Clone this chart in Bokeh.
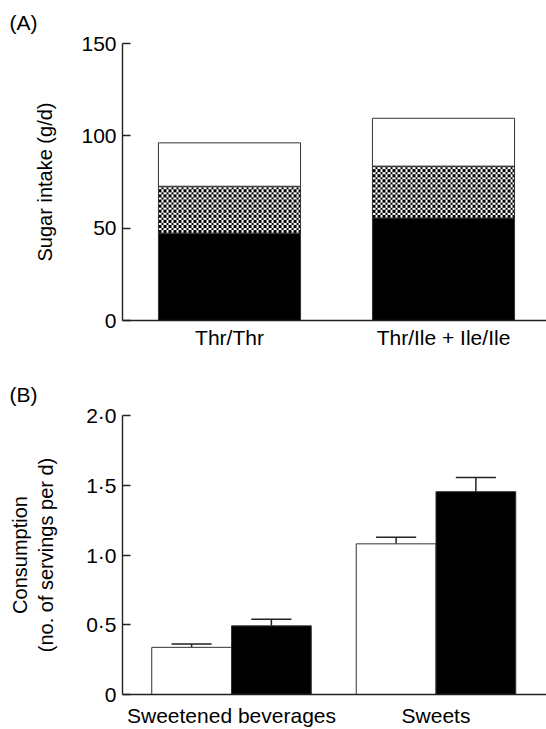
import numpy as np
from bokeh.plotting import figure
from bokeh.layouts import column
from bokeh.models import Range1d, FixedTicker
from bokeh.embed import file_html
from bokeh.resources import INLINE

# ---------------- data ----------------
genotypes = ["Thr/Thr", "Thr/Ile + Ile/Ile"]
sugar_black = [47.3, 55.5]      # bottom segment (g/d)
sugar_hatched = [25.4, 28.1]    # middle (checkered) segment
sugar_white = [23.5, 25.9]      # top segment

a_ticks = [0, 50, 100, 150]

food_groups = ["Sweetened beverages", "Sweets"]
cons_white = [0.338, 1.080]     # Thr/Thr
cons_white_err = [0.024, 0.048]
cons_black = [0.492, 1.454]     # Thr/Ile + Ile/Ile
cons_black_err = [0.047, 0.102]

b_ticks = [0, 0.5, 1.0, 1.5, 2.0]
b_tick_labels = ["0", "0\u00b75", "1\u00b70", "1\u00b75", "2\u00b70"]

FONT = "Liberation Sans"
FS = "21px"
FS_AX = "20px"
AX = "#222222"
W = 546
LEFT = 122


def style(p):
    p.toolbar_location = None
    p.outline_line_color = None
    p.xgrid.visible = False
    p.ygrid.visible = False
    p.background_fill_color = "white"
    p.border_fill_color = "white"
    for ax in (p.xaxis[0], p.yaxis[0]):
        ax.axis_line_color = AX
        ax.axis_line_width = 1.4
        ax.major_tick_line_color = AX
        ax.major_tick_line_width = 1.4
        ax.minor_tick_line_color = None
        ax.major_label_text_font = FONT
        ax.major_label_text_font_size = FS
        ax.major_label_text_color = "black"
        ax.axis_label_text_font = FONT
        ax.axis_label_text_font_size = FS_AX
        ax.axis_label_text_font_style = "normal"
        ax.axis_label_text_color = "black"
    p.xaxis.major_tick_in = 0
    p.xaxis.major_tick_out = 0
    p.yaxis.major_tick_in = 8
    p.yaxis.major_tick_out = 0
    p.yaxis.major_label_standoff = 6
    p.title.text_font = FONT
    p.title.text_font_size = FS
    p.title.text_font_style = "normal"
    p.title.text_color = "black"
    p.title.align = "left"
    p.title.offset = -(LEFT - 9)


# ---------------- panel A ----------------
A_H = 351
A_TOP, A_BOT = 43, 28
a_frame_h = A_H - A_TOP - A_BOT          # 280 px for 150 g/d
a_px_per_unit = 214.0
xa = np.arange(len(genotypes)) + 0.5
black_a = np.array(sugar_black)
hatch_a = black_a + np.array(sugar_hatched)
white_a = hatch_a + np.array(sugar_white)

pA = figure(width=W, height=A_H, output_backend="svg", toolbar_location=None,
            title="(A)",
            x_range=Range1d(0, (W - LEFT) / a_px_per_unit), y_range=Range1d(0, a_ticks[-1]),
            min_border_left=LEFT, min_border_right=0, min_border_top=A_TOP, min_border_bottom=A_BOT)
style(pA)
pA.title.standoff = 16
pA.title.vertical_align = "top"
wA = 0.664
pA.vbar(x=xa, width=wA, bottom=0, top=black_a, fill_color="black", line_color="#333333", line_width=1)

# checkerboard texture for the middle segment (cells of ~2.5 px)
imgs, ix, iy, idw, idh = [], [], [], [], []
for i in range(len(xa)):
    nx = int(round(wA * a_px_per_unit))
    ny = int(round(sugar_hatched[i] * a_frame_h / a_ticks[-1]))
    jj, ii = np.meshgrid(np.arange(nx), np.arange(ny))
    cell = (np.floor(jj / 2.5).astype(int) + np.floor(ii / 2.5).astype(int)) % 2
    arr = np.where(cell == 0, np.uint32(0xFF000000), np.uint32(0xFFFFFFFF)).astype(np.uint32)
    imgs.append(arr)
    ix.append(xa[i] - wA / 2)
    iy.append(black_a[i])
    idw.append(wA)
    idh.append(sugar_hatched[i])
pA.image_rgba(image=imgs, x=ix, y=iy, dw=idw, dh=idh)
pA.vbar(x=xa, width=wA, bottom=black_a, top=hatch_a, fill_color=None, line_color="#333333", line_width=1)
pA.vbar(x=xa, width=wA, bottom=hatch_a, top=white_a, fill_color="white", line_color="#333333", line_width=1)

pA.yaxis.ticker = FixedTicker(ticks=a_ticks)
pA.yaxis.axis_label = "Sugar intake (g/d)"
pA.yaxis.axis_label_standoff = 22
pA.xaxis.ticker = FixedTicker(ticks=list(xa))
pA.xaxis.major_label_overrides = {float(x): g for x, g in zip(xa, genotypes)}
pA.xaxis.major_label_standoff = 5

# ---------------- panel B ----------------
B_H = 729 - A_H
B_TOP = 64
b_frame_h = 282
xb = np.arange(len(food_groups)) + 0.5
b_px_per_unit = 204.5
off = 0.195
wB = 0.39
cap = 0.098
x_w = xb - off
x_b = xb + off
cw = np.array(cons_white)
cb = np.array(cons_black)
cwe = cw + np.array(cons_white_err)
cbe = cb + np.array(cons_black_err)

b_start = -0.033
pB = figure(width=W, height=B_H, output_backend="svg", toolbar_location=None,
            title="(B)",
            x_range=Range1d(b_start, b_start + (W - LEFT) / b_px_per_unit), y_range=Range1d(0, b_ticks[-1]),
            min_border_left=LEFT, min_border_right=0, min_border_top=B_TOP, min_border_bottom=B_H - B_TOP - b_frame_h)
style(pB)
pB.title.standoff = 20
pB.segment(x0=x_w, y0=cw, x1=x_w, y1=cwe, line_color=AX, line_width=1.5)
pB.segment(x0=x_w - cap, y0=cwe, x1=x_w + cap, y1=cwe, line_color=AX, line_width=1.5)
pB.segment(x0=x_b, y0=cb, x1=x_b, y1=cbe, line_color=AX, line_width=1.5)
pB.segment(x0=x_b - cap, y0=cbe, x1=x_b + cap, y1=cbe, line_color=AX, line_width=1.5)
pB.vbar(x=x_w, width=wB, bottom=0, top=cw, fill_color="white", line_color="#333333", line_width=1)
pB.vbar(x=x_b, width=wB, bottom=0, top=cb, fill_color="black", line_color="#333333", line_width=1)

pB.yaxis.ticker = FixedTicker(ticks=b_ticks)
pB.yaxis.major_label_overrides = {float(t): l for t, l in zip(b_ticks, b_tick_labels)}
pB.yaxis.axis_label = "Consumption\n(no. of servings per d)"
pB.yaxis.axis_label_standoff = 26
pB.xaxis.ticker = FixedTicker(ticks=list(xb))
pB.xaxis.major_label_overrides = {float(x): g for x, g in zip(xb, food_groups)}
pB.xaxis.major_label_standoff = 9

layout = column(pA, pB, spacing=0)
open("out.html", "w").write(file_html(layout, INLINE))
